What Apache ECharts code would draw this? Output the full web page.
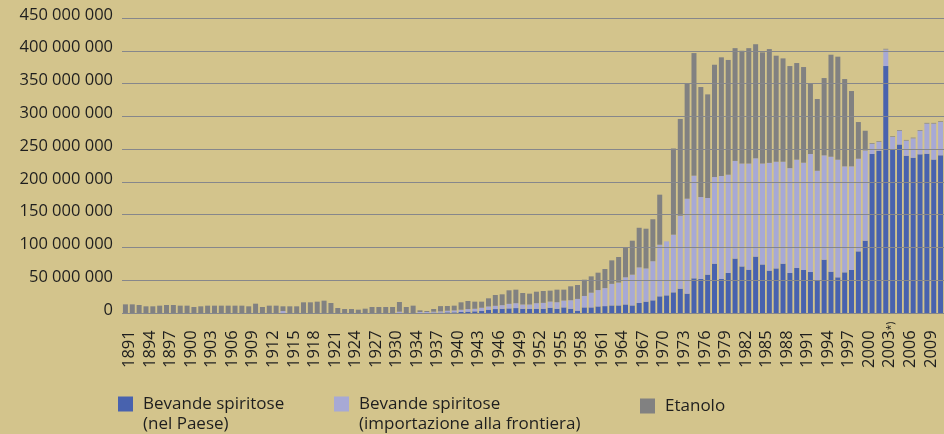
<!DOCTYPE html>
<html>
<head>
<meta charset="utf-8">
<script src="https://cdn.jsdelivr.net/npm/echarts@6/dist/echarts.min.js"></script>
<style>
  html, body { margin: 0; padding: 0; background: #d3c48c; }
  #chart { width: 944px; height: 434px; }
</style>
</head>
<body>
<div id="chart"></div>
<script>
// anni (il 1933 manca nella serie)
const anni = [
  '1891', '1892', '1893', '1894', '1895', '1896', '1897', '1898', '1899', '1900',
  '1901', '1902', '1903', '1904', '1905', '1906', '1907', '1908', '1909', '1910',
  '1911', '1912', '1913', '1914', '1915', '1916', '1917', '1918', '1919', '1920',
  '1921', '1922', '1923', '1924', '1925', '1926', '1927', '1928', '1929', '1930',
  '1931', '1932',
  '1934', '1935', '1936', '1937', '1938', '1939', '1940',
  '1941', '1942', '1943', '1944', '1945', '1946', '1947', '1948', '1949', '1950',
  '1951', '1952', '1953', '1954', '1955', '1956', '1957', '1958', '1959', '1960',
  '1961', '1962', '1963', '1964', '1965', '1966', '1967', '1968', '1969', '1970',
  '1971', '1972', '1973', '1974', '1975', '1976', '1977', '1978', '1979', '1980',
  '1981', '1982', '1983', '1984', '1985', '1986', '1987', '1988', '1989', '1990',
  '1991', '1992', '1993', '1994', '1995', '1996', '1997', '1998', '1999', '2000',
  '2001', '2002', '2003', '2004', '2005', '2006', '2007', '2008', '2009', '2010', '2011'
];

// valori in milioni
const nelPaese = [
  0, 0, 0, 0, 0, 0, 0, 0, 0, 0,
  0, 0, 0, 0, 0, 0, 0, 0, 0, 0,
  0, 0, 0, 0, 0, 0, 0, 0, 0, 0,
  0, 0, 0, 0, 0, 0, 0, 0, 0, 0,
  0, 0,
  0, 0, 0, 0.5, 0.5, 1, 1,
  1.5, 2, 2.5, 3, 5, 6, 6.5, 7, 7.5, 6.5,
  6.5, 6.5, 6.5, 8, 6.5, 8.5, 6.5, 3.5, 8.5, 8.5,
  10, 10.5, 11.5, 11.5, 13, 11.5, 15.3, 17.3, 19.3, 25.4,
  26.9, 31.5, 37.1, 29.5, 52.9, 51.9, 58.5, 75.2, 52, 61,
  83, 71, 66, 86, 74, 64.6, 68, 75.2, 61, 68.6,
  65.6, 62.5, 49.3, 81.3, 63, 54.4, 62, 65.6, 94, 110.3,
  242.5, 247.6, 376.7, 250, 257, 240, 237, 242, 243, 234, 240.5
];

const importazione = [
  0, 0, 0, 0, 0, 0, 0, 0, 0, 0,
  0, 0, 0, 0, 0, 0, 0, 0, 0, 0,
  0, 0, 0, 3, 0, 0, 0, 0, 0, 0,
  0, 0, 0, 0, 0, 0, 0, 0, 0, 0,
  2, 0,
  0, 1.5, 1.5, 1.5, 2, 2.5, 3,
  3.5, 4, 4, 5, 5, 5, 5.5, 7, 7.5, 6.5,
  6.5, 8.5, 9, 9.5, 10, 10.5, 13, 18, 17.5, 22.5,
  25, 27.5, 33, 35, 41.5, 47, 54.3, 50.7, 59.7, 78.8,
  82.4, 88, 111.3, 144.9, 156.6, 125, 116.9, 132.2, 157, 150,
  149, 157, 162, 150, 154, 164.4, 162.8, 155.6, 160, 165.3,
  163.7, 180, 167.7, 159.2, 175.4, 179.5, 161.7, 158.1, 141.4, 137.7,
  15.8, 13.4, 25.3, 18.5, 21, 23, 29.5, 36, 46, 55, 51
];

const etanolo = [
  13.2, 13.2, 12.2, 10.2, 10.2, 11.2, 12.2, 12.2, 11.2, 11.2,
  9.2, 10.2, 11.2, 11.2, 11.2, 11.2, 11.2, 11.2, 10.2, 14.2,
  9.2, 11.2, 11.2, 7.2, 10.2, 10.2, 16.3, 16.3, 17.3, 18.8,
  15.3, 7.6, 6.1, 6.1, 5.1, 6.6, 9.2, 9.2, 9.2, 9.2,
  14.8, 9.2,
  11.2, 2.6, 1.5, 4.1, 8, 7.2, 7.2,
  11.3, 12.3, 10.8, 9.3, 12.4, 16.5, 16.5, 20.6, 20.6, 17.5,
  16.5, 17.5, 18.1, 16.6, 19.1, 16.6, 21.2, 21.2, 24.8, 24.9,
  26.5, 29.1, 35.8, 38.9, 45.7, 51.8, 60.4, 60.6, 64, 76.3,
  0, 131.5, 147.6, 175.6, 187, 167.8, 158.1, 171.3, 181, 175,
  172, 172, 176, 174, 169.6, 173.6, 161.7, 157.6, 155.7, 147.4,
  145.9, 107.8, 109.4, 117.9, 155.6, 157.1, 133.2, 114.9, 55.9, 30,
  1, 1, 1, 1, 1, 1, 1, 1, 1, 1, 1
];

const nomi = [
  'Bevande spiritose (nel Paese)',
  'Bevande spiritose (importazione alla frontiera)',
  'Etanolo'
];
const colori = ['#4862ae', '#a7a9d5', '#818181'];

const font = 'Open Sans';
const textColor = '#1e1e1e';

const chart = echarts.init(document.getElementById('chart'));

const serie = [nelPaese, importazione, etanolo].map((data, i) => ({
  name: nomi[i],
  type: 'bar',
  stack: 'totale',
  barWidth: 5,
  itemStyle: { color: colori[i] },
  data: data
}));

// legenda: un componente per voce; riga vuota davanti cosi' il quadratino sta alla prima riga
const legende = nomi.map((nome, i) => {
  const dueRighe = i < 2;
  return {
    data: [nome],
    left: [118, 334, 640][i],
    top: dueRighe ? 374 : 396,
    padding: 0,
    icon: 'rect',
    itemWidth: 15,
    itemHeight: 15,
    formatter: n => (n.indexOf(' (') > 0 ? '\n' + n.replace(' (', '\n(') : n),
    textStyle: {
      fontFamily: font,
      fontSize: 17,
      color: textColor,
      lineHeight: 20,
      padding: [0, 0, 0, 5]
    }
  };
});

chart.setOption({
  backgroundColor: '#d3c48c',
  animation: false,
  grid: {
    left: 122,
    right: -4,
    top: 18,
    bottom: 121
  },
  legend: legende,
  xAxis: {
    type: 'category',
    data: anni,
    axisLine: { show: false },
    axisTick: { show: false },
    axisLabel: {
      interval: 2,
      rotate: 90,
      align: 'left',
      verticalAlign: 'top',
      lineHeight: 8,
      margin: 55,
      fontFamily: font,
      fontSize: 16.5,
      color: textColor,
      formatter: v => (v === '2003' ? '2003{sup|*)}' : v),
      rich: {
        sup: { fontFamily: font, fontSize: 10, color: textColor, verticalAlign: 'top', lineHeight: 8 }
      }
    }
  },
  yAxis: {
    type: 'value',
    min: 0,
    max: 450,
    interval: 50,
    z: 5,
    axisLine: { show: false },
    axisTick: { show: false },
    splitLine: { lineStyle: { color: '#86878b', width: 1 } },
    axisLabel: {
      margin: 9,
      fontFamily: font,
      fontSize: 16.5,
      color: textColor,
      verticalAlign: 'bottom',
      lineHeight: 6,
      formatter: v => String(Math.round(v * 1000000)).replace(/\B(?=(\d{3})+(?!\d))/g, ' ')
    }
  },
  series: serie
});
</script>
</body>
</html>
